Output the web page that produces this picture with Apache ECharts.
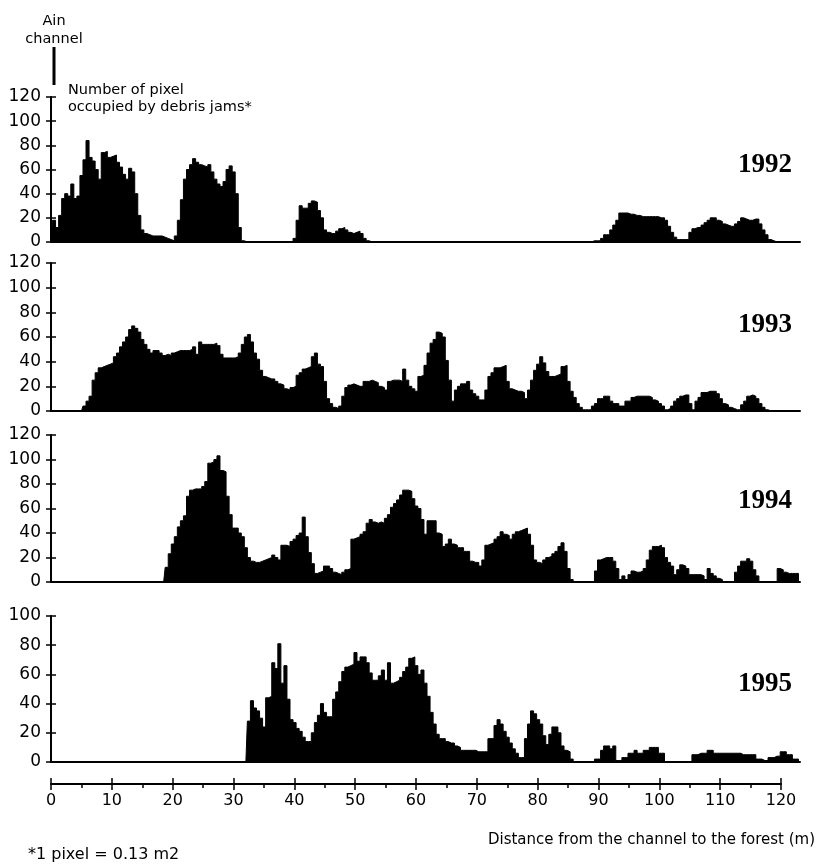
<!DOCTYPE html>
<html>
<head>
<meta charset="utf-8">
<script src="https://cdn.jsdelivr.net/npm/echarts@6/dist/echarts.min.js"></script>
<style>
  html, body { margin: 0; padding: 0; background: #fff; }
  #chart { width: 819px; height: 864px; }
</style>
</head>
<body>
<div id="chart"></div>
<script>
// Sampling step along the transect (m); one value per step from 0 to 123 m
const STEP = 0.5;

// Number of pixels occupied by debris jams, per 0.5 m, from 0 m to 123 m
const v1992 = [
  0,18,12,22,36,40,38,48,36,38,
  55,68,84,70,67,60,52,74,75,70,
  71,72,66,62,56,52,61,58,40,22,
  10,7,6,5,5,5,5,4,3,2,
  1,5,18,35,52,60,64,69,66,64,
  63,62,64,58,52,48,46,50,60,63,
  58,40,12,1,0,0,0,0,0,0,
  0,0,0,0,0,0,0,0,0,0,
  3,18,30,28,28,32,34,33,26,20,
  10,8,7,7,9,11,12,10,8,7,
  8,9,7,3,1,0,0,0,0,0,
  0,0,0,0,0,0,0,0,0,0,
  0,0,0,0,0,0,0,0,0,0,
  0,0,0,0,0,0,0,0,0,0,
  0,0,0,0,0,0,0,0,0,0,
  0,0,0,0,0,0,0,0,0,0,
  0,0,0,0,0,0,0,0,0,0,
  0,0,0,0,0,0,0,0,1,1,
  1,3,6,6,10,14,18,24,24,24,
  23,23,22,22,21,21,21,21,21,21,
  20,20,18,13,8,4,2,2,2,2,
  8,11,12,12,14,16,18,20,20,18,
  17,15,14,13,13,15,17,20,19,18,
  18,19,19,15,10,6,2,1,0,0,
  0,0,0,0,0,0,0
];
const v1993 = [
  0,0,0,0,0,0,0,0,0,0,
  0,4,8,12,25,31,35,36,37,38,
  39,44,47,52,56,60,66,69,67,64,
  58,54,50,47,49,49,47,45,46,45,
  47,48,49,49,49,49,50,52,46,56,
  54,54,54,54,55,53,46,43,43,43,
  43,44,47,54,60,62,56,47,42,33,
  28,27,26,26,24,22,21,18,17,19,
  20,29,31,34,35,36,44,47,38,36,
  24,10,6,3,2,4,12,19,21,22,
  21,20,20,24,24,25,24,23,20,19,
  17,24,25,25,25,24,34,25,20,18,
  16,28,29,37,47,55,58,64,63,60,
  41,25,8,17,20,22,22,24,17,14,
  12,9,9,17,28,31,35,35,36,37,
  24,18,17,16,16,15,10,17,25,33,
  38,44,39,32,28,28,29,30,36,37,
  24,16,11,6,3,1,1,1,4,6,
  10,10,12,12,8,6,6,4,4,8,
  8,11,12,12,12,12,12,11,9,8,
  6,4,1,2,4,8,10,12,13,13,
  6,1,8,11,15,15,16,16,16,14,
  10,6,5,3,2,1,1,5,8,12,
  13,12,10,6,3,1,0,0,0,0,
  0,0,0,0,0,0,0
];
const v1994 = [
  0,0,0,0,0,0,0,0,0,0,
  0,0,0,0,0,0,0,0,0,0,
  0,0,0,0,0,0,0,0,0,0,
  0,0,0,0,0,0,0,0,12,23,
  31,37,45,50,54,70,75,76,76,76,
  78,82,97,98,100,103,91,90,70,55,
  44,44,40,37,28,20,17,16,16,17,
  18,19,20,22,20,18,30,30,29,33,
  35,38,40,53,37,24,15,7,8,9,
  13,13,11,8,7,6,8,10,11,35,
  36,37,39,41,48,51,49,48,49,48,
  52,55,61,64,67,71,75,75,74,68,
  62,60,51,39,50,50,50,40,39,29,
  31,35,31,30,28,28,25,25,17,16,
  16,13,18,30,31,32,35,37,41,39,
  38,35,39,41,42,43,44,39,30,18,
  16,15,18,20,21,23,25,29,32,25,
  11,2,0,0,0,0,0,0,0,9,
  18,19,20,20,20,17,11,2,5,2,
  6,9,8,8,9,11,18,26,29,29,
  30,28,20,16,13,6,10,14,13,11,
  6,6,6,6,5,2,11,7,5,3,
  2,0,0,0,0,8,13,17,17,19,
  17,10,5,0,0,0,0,0,0,11,
  10,8,7,7,7,7,0
];
const v1995 = [
  0,0,0,0,0,0,0,0,0,0,
  0,0,0,0,0,0,0,0,0,0,
  0,0,0,0,0,0,0,0,0,0,
  0,0,0,0,0,0,0,0,0,0,
  0,0,0,0,0,0,0,0,0,0,
  0,0,0,0,0,0,0,0,0,0,
  0,0,0,0,0,28,42,37,35,30,
  24,44,45,68,64,81,54,66,43,29,
  27,23,21,17,14,14,20,27,32,40,
  34,31,31,43,48,55,62,65,66,67,
  75,69,72,72,68,61,56,56,59,63,
  56,68,54,55,56,58,62,65,71,72,
  66,60,63,54,45,34,26,19,16,16,
  14,13,13,11,10,8,8,8,8,8,
  7,7,7,7,16,16,25,29,26,21,
  17,13,9,6,3,3,16,26,35,33,
  29,26,18,12,19,24,24,20,11,8,
  7,2,0,0,0,0,0,0,0,2,
  2,8,11,11,9,11,1,1,3,3,
  6,6,8,6,6,8,8,10,10,10,
  6,6,0,0,0,0,0,0,0,0,
  0,5,5,6,6,6,8,8,6,6,
  6,6,6,6,6,6,6,5,5,5,
  5,5,2,2,1,1,3,3,4,4,
  7,7,5,5,2,2,0
];

const years = ['1992', '1993', '1994', '1995'];
const yMax = [120, 120, 120, 100];
const series = [v1992, v1993, v1994, v1995];

const X_MAX = 123;
const FONT = '"DejaVu Sans", sans-serif';

const panels = [
  { top: 97,  height: 145, yTitle: 165 },
  { top: 263, height: 148, yTitle: 325 },
  { top: 435, height: 147, yTitle: 501 },
  { top: 616, height: 146, yTitle: 684 }
];

const grids = [];
const xAxes = [];
const yAxes = [];
const seriesOpts = [];

panels.forEach((p, i) => {
  grids.push({ left: 51, top: p.top, width: 749, height: p.height });
  xAxes.push({
    type: 'value', gridIndex: i, min: 0, max: X_MAX,
    axisLine: { show: true, onZero: false, lineStyle: { color: '#000', width: 2 } },
    axisTick: { show: false }, axisLabel: { show: false }, splitLine: { show: false }
  });
  // outer ticks + labels
  yAxes.push({
    type: 'value', gridIndex: i, min: 0, max: yMax[i], interval: 20,
    axisLine: { show: true, lineStyle: { color: '#000', width: 2 } },
    axisTick: { show: true, inside: false, length: 5, lineStyle: { color: '#000', width: 1.5 } },
    axisLabel: { show: true, color: '#000', fontFamily: FONT, fontSize: 17, margin: 10 },
    splitLine: { show: false }
  });
  // inner ticks (so ticks cross the axis)
  yAxes.push({
    type: 'value', gridIndex: i, min: 0, max: yMax[i], interval: 20, position: 'left',
    axisLine: { show: false },
    axisTick: { show: true, inside: true, length: 5, lineStyle: { color: '#000', width: 1.5 } },
    axisLabel: { show: false }, splitLine: { show: false }
  });
  const data = series[i].map((v, k) => [k * STEP, v]);
  seriesOpts.push({
    type: 'line', name: years[i], xAxisIndex: i, yAxisIndex: i * 2,
    data: data, step: 'middle', showSymbol: false, symbol: 'none',
    lineStyle: { color: '#000', width: 1 },
    areaStyle: { color: '#000', opacity: 1 },
    silent: true, animation: false, z: 3
  });
});

// bottom distance axis
grids.push({ left: 51, top: 779, width: 730, height: 5 });
xAxes.push({
  type: 'value', gridIndex: 4, min: 0, max: 120, interval: 10, position: 'bottom',
  axisLine: { show: true, lineStyle: { color: '#000', width: 2 } },
  axisTick: { show: true, inside: false, length: 6, lineStyle: { color: '#000', width: 1.5 } },
  minorTick: { show: true, splitNumber: 2, length: 4, lineStyle: { color: '#000', width: 1.5 } },
  axisLabel: { show: true, color: '#000', fontFamily: FONT, fontSize: 16, margin: 9 },
  splitLine: { show: false }, minorSplitLine: { show: false }
});
xAxes.push({
  type: 'value', gridIndex: 4, min: 0, max: 120, interval: 10, position: 'bottom',
  axisLine: { show: false },
  axisTick: { show: true, inside: true, length: 6, lineStyle: { color: '#000', width: 1.5 } },
  axisLabel: { show: false }, splitLine: { show: false }
});
yAxes.push({ type: 'value', gridIndex: 4, min: 0, max: 1, show: false });

const graphics = [
  { type: 'text', style: { text: 'Ain', x: 54, y: 21, fill: '#000', font: '14.5px ' + FONT, textAlign: 'center', textVerticalAlign: 'middle' } },
  { type: 'text', style: { text: 'channel', x: 54, y: 39, fill: '#000', font: '14.5px ' + FONT, textAlign: 'center', textVerticalAlign: 'middle' } },
  { type: 'rect', shape: { x: 52.5, y: 47, width: 3, height: 38 }, style: { fill: '#000' } },
  { type: 'text', style: { text: 'Number of pixel', x: 68, y: 90, fill: '#000', font: '14.5px ' + FONT, textAlign: 'left', textVerticalAlign: 'middle' } },
  { type: 'text', style: { text: 'occupied by debris jams*', x: 68, y: 107, fill: '#000', font: '14.5px ' + FONT, textAlign: 'left', textVerticalAlign: 'middle' } },
  { type: 'text', style: { text: 'Distance from the channel to the forest (m)', x: 815, y: 840, fill: '#000', font: '15px ' + FONT, textAlign: 'right', textVerticalAlign: 'middle' } },
  { type: 'text', style: { text: '*1 pixel = 0.13 m2', x: 28, y: 855, fill: '#000', font: '16px ' + FONT, textAlign: 'left', textVerticalAlign: 'middle' } }
];
panels.forEach((p, i) => {
  graphics.push({
    type: 'text',
    style: { text: years[i], x: 792, y: p.yTitle, fill: '#000',
      font: 'bold 27px "Liberation Serif", "Times New Roman", serif',
      textAlign: 'right', textVerticalAlign: 'middle' }
  });
});

const chart = echarts.init(document.getElementById('chart'), null, { renderer: 'canvas' });
chart.setOption({
  animation: false,
  backgroundColor: '#fff',
  grid: grids,
  xAxis: xAxes,
  yAxis: yAxes,
  series: seriesOpts,
  graphic: graphics
});
</script>
</body>
</html>
